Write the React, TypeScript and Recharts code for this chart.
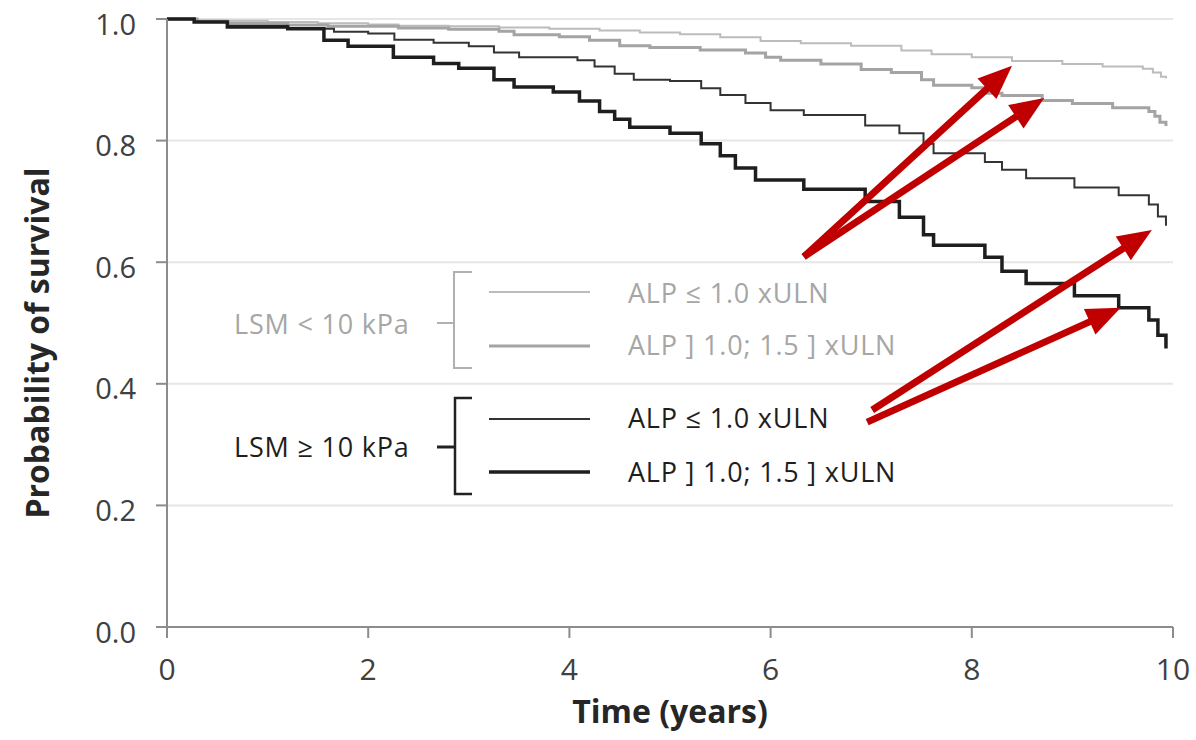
import { LineChart, Line, XAxis, YAxis, CartesianGrid, ReferenceLine, Label } from 'recharts'

// Kaplan-Meier steps: [time in years, survival]
const lowLsmNormalAlp: [number, number][] = [
  [0, 1], [0.3, 0.998], [0.6, 0.997], [1.0, 0.995], [1.5, 0.993], [2.0, 0.991],
  [2.3, 0.989], [2.8, 0.988], [3.3, 0.986], [3.8, 0.984], [4.3, 0.981], [4.7, 0.978],
  [5.1, 0.975], [5.5, 0.97], [5.9, 0.964], [6.3, 0.96], [6.8, 0.956], [7.3, 0.948],
  [7.6, 0.942], [8.0, 0.937], [8.4, 0.931], [8.9, 0.926], [9.3, 0.922], [9.7, 0.918],
  [9.8, 0.912], [9.88, 0.905], [9.93, 0.902],
]

const lowLsmHighAlp: [number, number][] = [
  [0, 1], [0.3, 0.996], [0.6, 0.993], [1.2, 0.99], [1.6, 0.988], [2.3, 0.985],
  [2.8, 0.983], [3.3, 0.98], [3.45, 0.974], [3.9, 0.971], [4.2, 0.965], [4.5, 0.956],
  [4.8, 0.953], [5.3, 0.949], [5.75, 0.944], [5.95, 0.937], [6.1, 0.932], [6.5, 0.926],
  [6.9, 0.917], [7.2, 0.912], [7.5, 0.9], [7.62, 0.891], [8.0, 0.887], [8.15, 0.878],
  [8.3, 0.874], [8.7, 0.866], [9.0, 0.861], [9.4, 0.854], [9.76, 0.848], [9.82, 0.84],
  [9.87, 0.83], [9.93, 0.824],
]

const highLsmNormalAlp: [number, number][] = [
  [0, 1], [0.27, 0.995], [0.6, 0.989], [1.2, 0.984], [1.66, 0.979], [2.0, 0.976],
  [2.26, 0.966], [2.65, 0.961], [3.0, 0.955], [3.25, 0.945], [3.5, 0.937], [4.08, 0.932],
  [4.25, 0.922], [4.45, 0.91], [4.64, 0.9], [5.0, 0.898], [5.31, 0.886], [5.5, 0.875],
  [5.75, 0.862], [6.0, 0.85], [6.33, 0.842], [6.94, 0.825], [7.28, 0.812], [7.52, 0.795],
  [7.62, 0.779], [8.13, 0.765], [8.3, 0.752], [8.54, 0.738], [9.02, 0.723], [9.46, 0.71],
  [9.76, 0.695], [9.85, 0.675], [9.93, 0.66],
]

const highLsmHighAlp: [number, number][] = [
  [0, 1], [0.27, 0.995], [0.6, 0.987], [1.2, 0.984], [1.56, 0.965], [1.8, 0.955],
  [2.25, 0.937], [2.65, 0.927], [2.9, 0.919], [3.25, 0.9], [3.45, 0.888], [3.84, 0.88],
  [4.1, 0.865], [4.3, 0.848], [4.45, 0.835], [4.6, 0.822], [5.0, 0.812], [5.31, 0.795],
  [5.5, 0.775], [5.65, 0.755], [5.85, 0.735], [6.33, 0.72], [6.94, 0.7], [7.28, 0.674],
  [7.52, 0.645], [7.62, 0.628], [8.13, 0.608], [8.3, 0.585], [8.54, 0.565], [9.02, 0.545],
  [9.46, 0.525], [9.76, 0.505], [9.85, 0.48], [9.93, 0.458],
]

const xTicks = [0, 2, 4, 6, 8, 10]
const yTicks = [0, 0.2, 0.4, 0.6, 0.8, 1.0]

// red annotation arrows: [tail, tip] in data units
const arrows: [[number, number], [number, number]][] = [
  [[6.33, 0.609], [8.4, 0.923]],
  [[6.33, 0.609], [8.72, 0.87]],
  [[7.01, 0.357], [9.79, 0.653]],
  [[6.96, 0.337], [9.48, 0.525]],
]

const toRows = (pts: [number, number][]) => pts.map(([t, s]) => ({ t, s }))

const GRAY_TEXT = '#a6a6a6'
const DARK_TEXT = '#1e1e1e'
const FONT = '"Open Sans", sans-serif'

function Arrow(props: any) {
  const { x1, y1, x2, y2 } = props
  const dx = x2 - x1
  const dy = y2 - y1
  const len = Math.sqrt(dx * dx + dy * dy)
  const ux = dx / len
  const uy = dy / len
  const head = 34
  const half = 14
  const bx = x2 - ux * head
  const by = y2 - uy * head
  return (
    <g>
      <line x1={x1} y1={y1} x2={bx + ux * 4} y2={by + uy * 4} stroke="#c00000" strokeWidth={7} />
      <polygon
        points={`${x2},${y2} ${bx - uy * half},${by + ux * half} ${bx + uy * half},${by - ux * half}`}
        fill="#c00000"
      />
    </g>
  )
}

// y tick labels sit a little below their gridline, as in the original
function YTick(props: any) {
  const { x, y, payload } = props
  return (
    <text
      x={x}
      y={y + 4}
      textAnchor="end"
      dominantBaseline="central"
      fontSize={29}
      fill="#404040"
      fontFamily={FONT}
    >
      {Number(payload.value).toFixed(1)}
    </text>
  )
}

function YTitle() {
  const cy = 343
  return (
    <text
      x={36}
      y={cy}
      transform={`rotate(-90, 36, ${cy})`}
      textAnchor="middle"
      dominantBaseline="central"
      fontSize={32}
      fontWeight={700}
      fill="#262626"
      fontFamily={FONT}
    >
      Probability of survival
    </text>
  )
}

function LegendOverlay() {
  const txt = { fontSize: 27, letterSpacing: 0.8, fontFamily: FONT, dominantBaseline: 'central' as const }
  return (
    <svg width={1196} height={740} style={{ position: 'absolute', left: 0, top: 0, pointerEvents: 'none' }}>
      {/* LSM < 10 kPa group */}
      <text x={234} y={323} fill={GRAY_TEXT} {...txt}>LSM &lt; 10 kPa</text>
      <line x1={437} x2={454} y1={323} y2={323} stroke="#b0b0b0" strokeWidth={2} />
      <path d="M472 272 H454 V368 H472" fill="none" stroke="#b0b0b0" strokeWidth={2} />
      <line x1={489} x2={590} y1={292} y2={292} stroke="#bcbcbc" strokeWidth={2} />
      <line x1={489} x2={590} y1={346} y2={346} stroke="#a4a4a4" strokeWidth={3} />
      <text x={628} y={292} fill={GRAY_TEXT} {...txt}>ALP ≤ 1.0 xULN</text>
      <text x={628} y={344} fill={GRAY_TEXT} {...txt}>ALP ] 1.0; 1.5 ] xULN</text>

      {/* LSM >= 10 kPa group */}
      <text x={234} y={446} fill={DARK_TEXT} {...txt}>LSM ≥ 10 kPa</text>
      <line x1={437} x2={455} y1={447} y2={447} stroke="#222" strokeWidth={3} />
      <path d="M472 398 H455 V494 H472" fill="none" stroke="#222" strokeWidth={2.5} />
      <line x1={489} x2={590} y1={419} y2={419} stroke="#333" strokeWidth={2} />
      <line x1={489} x2={590} y1={472} y2={472} stroke="#1e1e1e" strokeWidth={3.5} />
      <text x={628} y={417} fill={DARK_TEXT} {...txt}>ALP ≤ 1.0 xULN</text>
      <text x={628} y={471} fill={DARK_TEXT} {...txt}>ALP ] 1.0; 1.5 ] xULN</text>
    </svg>
  )
}

export default function App() {
  return (
    <div
      style={{
        position: 'absolute',
        left: 0,
        top: 0,
        width: 1196,
        height: 740,
        background: '#fff',
        fontFamily: FONT,
      }}
    >
      <LineChart width={1196} height={740} margin={{ top: 19, right: 23, left: 0, bottom: 13 }}>
        <CartesianGrid vertical={false} stroke="#e6e6e6" strokeWidth={2} />
        <XAxis
          type="number"
          dataKey="t"
          domain={[0, 10]}
          ticks={xTicks}
          height={100}
          tickSize={11}
          tickMargin={21}
          axisLine={{ stroke: '#8c8c8c', strokeWidth: 2 }}
          tickLine={{ stroke: '#8c8c8c', strokeWidth: 2 }}
          tick={{ fill: '#404040', fontSize: 30, fontFamily: FONT }}
        >
          <Label
            value="Time (years)"
            position="insideBottom"
            offset={4}
            style={{ fontSize: 32, fontWeight: 700, fill: '#262626', fontFamily: FONT }}
          />
        </XAxis>
        <YAxis
          type="number"
          domain={[0, 1]}
          ticks={yTicks}
          width={167}
          tickSize={11}
          tickMargin={20}
          axisLine={{ stroke: '#8c8c8c', strokeWidth: 2 }}
          tickLine={{ stroke: '#8c8c8c', strokeWidth: 2 }}
          tick={YTick}
        >
          <Label content={YTitle} />
        </YAxis>

        <Line data={toRows(lowLsmNormalAlp)} dataKey="s" type="stepAfter" stroke="#bcbcbc" strokeWidth={2} dot={false} isAnimationActive={false} />
        <Line data={toRows(lowLsmHighAlp)} dataKey="s" type="stepAfter" stroke="#a4a4a4" strokeWidth={3} dot={false} isAnimationActive={false} />
        <Line data={toRows(highLsmNormalAlp)} dataKey="s" type="stepAfter" stroke="#333333" strokeWidth={2} dot={false} isAnimationActive={false} />
        <Line data={toRows(highLsmHighAlp)} dataKey="s" type="stepAfter" stroke="#1e1e1e" strokeWidth={3.5} dot={false} isAnimationActive={false} />

        {arrows.map(([from, to], i) => (
          <ReferenceLine
            key={i}
            segment={[{ x: from[0], y: from[1] }, { x: to[0], y: to[1] }]}
            shape={Arrow}
          />
        ))}
      </LineChart>
      <LegendOverlay />
    </div>
  )
}
